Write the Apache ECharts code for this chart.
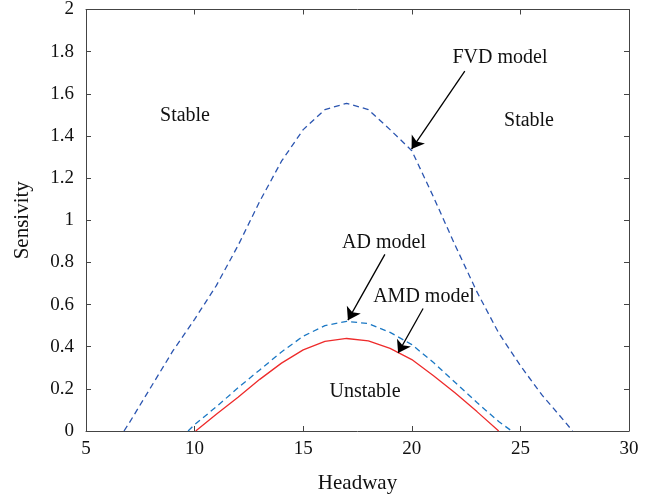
<!DOCTYPE html>
<html>
<head>
<meta charset="utf-8">
<script src="https://cdn.jsdelivr.net/npm/echarts@6/dist/echarts.min.js"></script>
<style>
  html, body { margin: 0; padding: 0; background: #fff; }
  #chart { width: 669px; height: 499px; }
</style>
</head>
<body>
<div id="chart"></div>
<script>
// headway values and sensitivity curves
var fvdX = [6.75, 7, 8, 9, 10, 11, 12, 13, 14, 15, 16, 17, 18, 19, 20, 21, 22, 23, 24, 25, 26, 27, 27.4]
var fvdY = [0, 0.04, 0.21, 0.38, 0.53, 0.69, 0.88, 1.09, 1.28, 1.43, 1.525, 1.555, 1.525, 1.43, 1.33, 1.11, 0.88, 0.66, 0.465, 0.31, 0.17, 0.05, 0]
var adX = [9.7, 10, 11, 12, 13, 14, 15, 16, 17, 18, 19, 20, 21, 22, 23, 24, 24.6]
var adY = [0, 0.03, 0.115, 0.205, 0.29, 0.375, 0.45, 0.5, 0.52, 0.51, 0.468, 0.41, 0.325, 0.23, 0.135, 0.045, 0]
var amdX = [10.05, 11, 12, 13, 14, 15, 16, 17, 18, 19, 20, 21, 22, 23, 24]
var amdY = [0, 0.08, 0.16, 0.245, 0.322, 0.385, 0.425, 0.439, 0.428, 0.392, 0.339, 0.262, 0.18, 0.092, 0]

var xTicks = [5, 10, 15, 20, 25, 30]
var yTicks = [0, 0.2, 0.4, 0.6, 0.8, 1, 1.2, 1.4, 1.6, 1.8, 2]

// annotation arrows, [from, to] in data units
var arrows = [
  [[22.44, 1.708], [19.99, 1.338]],
  [[18.76, 0.838], [17.06, 0.526]],
  [[20.52, 0.581], [19.37, 0.37]]
]

var fontFam = '"Liberation Serif", "DejaVu Serif", serif'
var axisColor = '#444'

function pairs(xs, ys) {
  return xs.map(function (x, i) { return [x, ys[i]] })
}

var chart = echarts.init(document.getElementById('chart'))

var baseX = {
  type: 'value',
  min: xTicks[0],
  max: xTicks[xTicks.length - 1],
  interval: 5,
  splitLine: { show: false },
  axisLine: { onZero: false, lineStyle: { color: axisColor, width: 1 } },
  axisTick: { inside: true, length: 5, lineStyle: { color: axisColor } }
}
var baseY = {
  type: 'value',
  min: yTicks[0],
  max: yTicks[yTicks.length - 1],
  interval: 0.2,
  splitLine: { show: false },
  axisLine: { onZero: false, lineStyle: { color: axisColor, width: 1 } },
  axisTick: { inside: true, length: 5, lineStyle: { color: axisColor } }
}

function note(text, x, y) {
  return {
    type: 'text', x: x, y: y,
    style: { text: text, font: '20px ' + fontFam, fill: '#111', align: 'center', verticalAlign: 'middle' }
  }
}

chart.setOption({
  animation: false,
  backgroundColor: '#fff',
  textStyle: { fontFamily: fontFam },
  grid: { left: 86, right: 40, top: 7, bottom: 65 },
  xAxis: [
    Object.assign({}, baseX, {
      position: 'bottom',
      name: 'Headway',
      nameLocation: 'middle',
      nameGap: 42,
      nameTextStyle: { fontFamily: fontFam, fontSize: 21, color: '#111' },
      axisLabel: { fontFamily: fontFam, fontSize: 19, color: '#111', margin: 9 }
    }),
    Object.assign({}, baseX, { position: 'top', axisLabel: { show: false } })
  ],
  yAxis: [
    Object.assign({}, baseY, {
      position: 'left',
      name: 'Sensivity',
      nameLocation: 'middle',
      nameGap: 53,
      nameTextStyle: { fontFamily: fontFam, fontSize: 21, color: '#111' },
      axisLabel: { fontFamily: fontFam, fontSize: 19, color: '#111', margin: 12 }
    }),
    Object.assign({}, baseY, { position: 'right', axisLabel: { show: false } })
  ],
  series: [
    {
      name: 'FVD model',
      type: 'line',
      data: pairs(fvdX, fvdY),
      showSymbol: false,
      lineStyle: { color: '#2b55b0', width: 1.3, type: [6, 4] },
      markLine: {
        silent: true,
        symbol: ['none', 'arrow'],
        symbolSize: 12,
        label: { show: false },
        lineStyle: { color: '#000', width: 1.3, type: 'solid' },
        itemStyle: { color: '#000' },
        data: arrows.map(function (a) {
          return [{ coord: a[0] }, { coord: a[1] }]
        })
      }
    },
    {
      name: 'AD model',
      type: 'line',
      data: pairs(adX, adY),
      showSymbol: false,
      lineStyle: { color: '#1b78c4', width: 1.3, type: [6, 4] }
    },
    {
      name: 'AMD model',
      type: 'line',
      data: pairs(amdX, amdY),
      showSymbol: false,
      lineStyle: { color: '#ee2b2b', width: 1.3 }
    }
  ],
  graphic: [
    note('Stable', 185, 116),
    note('Stable', 529, 121),
    note('FVD model', 500, 58),
    note('AD model', 384, 243),
    note('AMD model', 424, 297),
    note('Unstable', 365, 392)
  ]
})
</script>
</body>
</html>
